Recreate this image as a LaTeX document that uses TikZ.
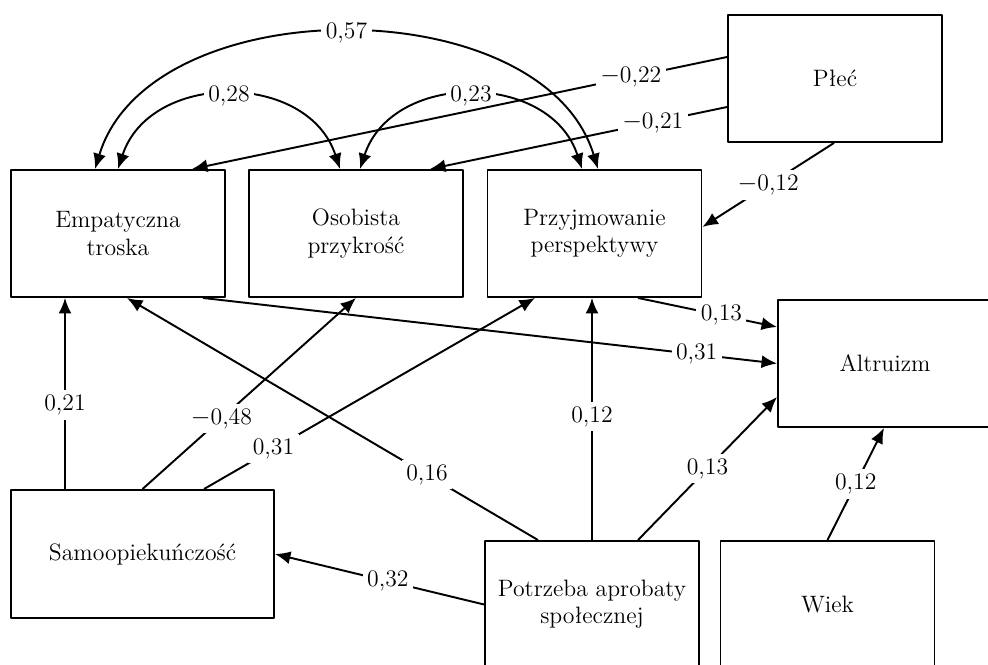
\documentclass[tikz,border=0pt]{standalone}
\usepackage{tikz}
\usetikzlibrary{positioning, arrows.meta, calc}

\begin{document}
\begin{tikzpicture}[
  x=0.02cm, y=-0.02cm,
  line width=1.1pt, line join=round,
  >={Latex[length=0.31cm, width=0.26cm]},
  font=\fontsize{13.5}{15.5}\selectfont,
  var/.style = {draw, line width=1.1pt, minimum width=4.28cm, minimum height=2.54cm,
                align=center, inner sep=2pt, anchor=center},
  lbl/.style = {fill=white, inner sep=2.5pt}
]
\useasboundingbox (0,0) rectangle (988,665);
\clip (0,0) rectangle (988,665);

% zmienne
\node[var] (emp)   at (118,233.5)   {Empatyczna\\troska};
\node[var] (osob)  at (356,233.5)   {Osobista\\przykrość};
\node[var] (przyj) at (594.5,233.5) {Przyjmowanie\\perspektywy};
\node[var] (plec)  at (835,78.5)    {Płeć};
\node[var] (altr)  at (885,363.5)   {Altruizm};
\node[var, minimum width=5.26cm, minimum height=2.56cm] (samo) at (142.5,554) {Samoopiekuńczość};
\node[var] (potrz) at (592,604.5)   {Potrzeba aprobaty\\społecznej};
\node[var] (wiek)  at (827.5,604.5) {Wiek};

% korelacje
\draw[<->] ($(emp.north)+(-23,0)$) .. controls (150,-12) and (543,-12)
  .. node[lbl] {0,57} ($(przyj.north)+(3.5,0)$);
\draw[<->] (emp.north) .. controls (150,71) and (308,71)
  .. node[lbl] {0,28} ($(osob.north)+(-16,0)$);
\draw[<->] ($(osob.north)+(4,0)$) .. controls (392,71) and (550,71)
  .. node[lbl] {0,23} ($(przyj.north)+(-12.5,0)$);

% płeć
\draw[->] ($(plec.west)+(0,-21.5)$) -- node[lbl, pos=0.18] {$-$0,22} ($(emp.north)+(74,0)$);
\draw[->] ($(plec.west)+(0,28.5)$) -- node[lbl, pos=0.25] {$-$0,21} ($(osob.north)+(74,0)$);
\draw[->] ($(plec.south)+(-1,0)$) -- node[lbl, pos=0.5] {$-$0,12} ($(przyj.east)+(0,-6.5)$);

% do altruizmu
\draw[->] ($(emp.south)+(85,0)$) -- node[lbl, pos=0.86] {0,31} (altr.west);
\draw[->] ($(przyj.south)+(43.5,0)$) -- node[lbl, pos=0.6] {0,13} ($(altr.west)+(0,-36.5)$);
\draw[->] ($(potrz.north)+(46,0)$) -- node[lbl, pos=0.5] {0,13} ($(altr.west)+(0,33.5)$);
\draw[->] (wiek.north) -- node[lbl, pos=0.5] {0,12} ($(altr.south)+(-1,0)$);

% samoopiekuńczość
\draw[->] ($(samo.north)+(-77.5,0)$) -- node[lbl, pos=0.44] {0,21} ($(emp.south)+(-53,0)$);
\draw[->] (samo.north) -- node[lbl, pos=0.37] {$-$0,48} (osob.south);
\draw[->] ($(samo.north)+(61.5,0)$) -- node[lbl, pos=0.21] {0,31} ($(przyj.south)+(-59.5,0)$);

% potrzeba aprobaty
\draw[->] ($(potrz.north)+(-54,0)$) -- node[lbl, pos=0.27] {0,16} ($(emp.south)+(9,0)$);
\draw[->] (potrz.west) -- node[lbl, pos=0.46] {0,32} (samo.east);
\draw[->] (potrz.north) -- node[lbl, pos=0.51] {0,12} (potrz.north |- przyj.south);

\end{tikzpicture}
\end{document}
